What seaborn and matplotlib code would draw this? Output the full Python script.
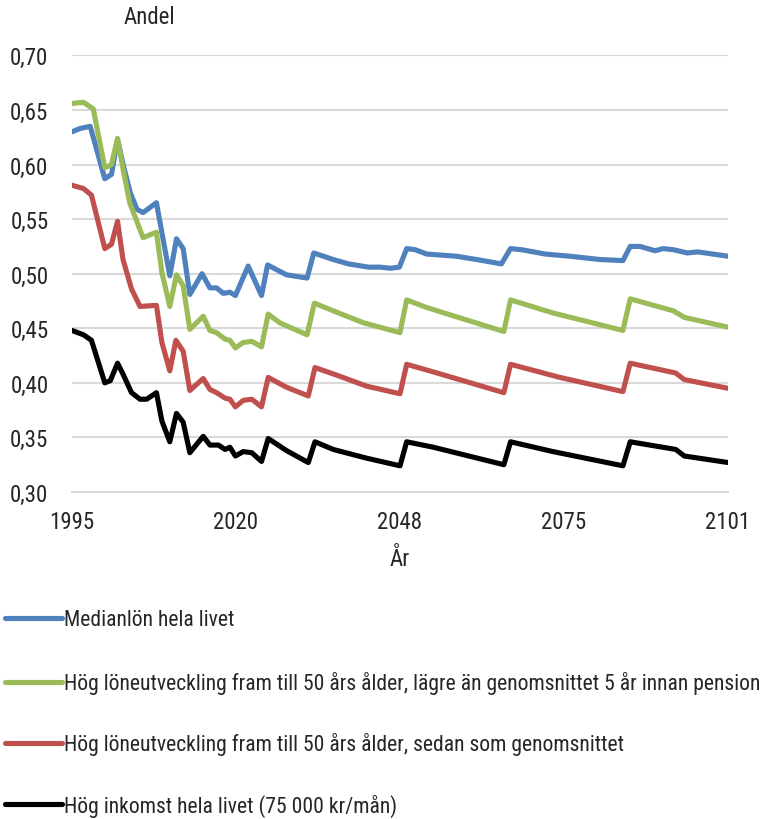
import numpy as np
import pandas as pd
import matplotlib
matplotlib.use("Agg")
import matplotlib.pyplot as plt
import seaborn as sns
from matplotlib.lines import Line2D
from matplotlib import font_manager as fm

# ---- data (x = category position on the year axis, 0 = 1995 ... 108 = 2101) ----
tick_pos = [0, 27, 54, 81, 108]
tick_labels = ["1995", "2020", "2048", "2075", "2101"]

labels = [
    "Medianlön hela livet",
    "Hög löneutveckling fram till 50 års ålder, lägre än genomsnittet 5 år innan pension",
    "Hög löneutveckling fram till 50 års ålder, sedan som genomsnittet",
    "Hög inkomst hela livet (75 000 kr/mån)",
]

blue_t = [0, 1.3, 3, 5.4, 6.5, 7.5, 8.5, 9.6, 10.7, 11.7, 13.9, 16.1, 17.2, 18.3, 19.4,
          21.4, 22.7, 23.8, 24.9, 26, 26.9, 29, 31.2, 32.2, 35.3, 38.7, 39.8, 41.4, 43,
          45.5, 48.8, 50.7, 52.4, 53.9, 55.1, 56.5, 58.4, 63.3, 66.6, 70.7, 72.2, 74,
          77.9, 82, 86.9, 90.7, 91.9, 93.5, 96, 97.3, 99, 101.3, 103, 108]
blue_v = [0.630, 0.633, 0.635, 0.587, 0.591, 0.623, 0.598, 0.574, 0.559, 0.556, 0.565,
          0.498, 0.532, 0.523, 0.481, 0.500, 0.487, 0.487, 0.482, 0.483, 0.480, 0.507,
          0.480, 0.508, 0.499, 0.496, 0.519, 0.516, 0.513, 0.509, 0.506, 0.506, 0.505,
          0.506, 0.523, 0.522, 0.518, 0.516, 0.513, 0.509, 0.523, 0.522, 0.518, 0.516,
          0.513, 0.512, 0.525, 0.525, 0.521, 0.523, 0.522, 0.519, 0.520, 0.516]

green_t = [0, 1.9, 3.5, 5.4, 6.5, 7.5, 8.4, 9.5, 11.7, 13.9, 14.8, 16.1, 17.2, 18.3, 19.4,
           21.6, 22.7, 23.8, 25.2, 26, 26.9, 28.2, 29.6, 31.2, 32.3, 34.2, 38.7, 39.9,
           43, 48, 54, 55.1, 58.4, 71.1, 72.2, 79.2, 90.7, 91.9, 99, 100.8, 108]
green_v = [0.656, 0.657, 0.651, 0.597, 0.600, 0.624, 0.596, 0.565, 0.533, 0.538, 0.501,
           0.470, 0.499, 0.489, 0.449, 0.461, 0.448, 0.446, 0.440, 0.439, 0.432, 0.437,
           0.438, 0.433, 0.463, 0.455, 0.444, 0.473, 0.466, 0.455, 0.446, 0.476, 0.469,
           0.447, 0.476, 0.464, 0.448, 0.477, 0.466, 0.460, 0.451]

red_t = [0, 1.9, 3.2, 5.4, 6.5, 7.5, 8.4, 9.8, 11.2, 13.9, 14.8, 16.1, 17.1, 18.3, 19.4,
         21.6, 22.7, 23.8, 25.2, 26, 26.9, 28.2, 29.6, 31.2, 32.3, 35.3, 38.9, 40,
         43.6, 48.5, 54, 55.1, 59.5, 71.1, 72.2, 80.3, 90.7, 91.9, 99.4, 100.8, 108]
red_v = [0.581, 0.578, 0.572, 0.523, 0.527, 0.548, 0.513, 0.486, 0.470, 0.471, 0.437,
         0.411, 0.439, 0.429, 0.393, 0.404, 0.394, 0.391, 0.386, 0.385, 0.378, 0.384,
         0.385, 0.378, 0.405, 0.396, 0.388, 0.414, 0.407, 0.397, 0.390, 0.417, 0.410,
         0.391, 0.417, 0.405, 0.392, 0.418, 0.409, 0.403, 0.395]

black_t = [0, 1.9, 3.2, 5.4, 6.3, 7.5, 8.4, 9.8, 11.2, 12.3, 13.9, 14.8, 16.1, 17.2, 18.3,
           19.4, 21.6, 22.7, 24.1, 25.2, 26, 26.9, 28.2, 29.6, 31.2, 32.3, 35.3, 38.9,
           40, 43, 48.5, 54, 55.1, 59.5, 71.1, 72.2, 79.2, 90.7, 91.9, 99.4, 100.8, 108]
black_v = [0.448, 0.444, 0.439, 0.400, 0.402, 0.418, 0.408, 0.391, 0.385, 0.385, 0.391,
           0.365, 0.346, 0.372, 0.364, 0.336, 0.351, 0.343, 0.343, 0.339, 0.341, 0.333,
           0.337, 0.336, 0.328, 0.349, 0.338, 0.327, 0.346, 0.339, 0.331, 0.324, 0.346,
           0.341, 0.325, 0.346, 0.337, 0.324, 0.346, 0.339, 0.333, 0.327]

colors = ["#4f81bd", "#9bbb59", "#c0504d", "#000000"]

frames = []
for lab, t, v in zip(labels, [blue_t, green_t, red_t, black_t],
                     [blue_v, green_v, red_v, black_v]):
    frames.append(pd.DataFrame({"t": t, "andel": v, "serie": lab}))
df = pd.concat(frames, ignore_index=True)

# ---- pick a narrow font if one is installed ----
sns.set_theme(style="white")
narrow_family, narrow_stretch = None, "normal"
pref = ["Liberation Sans Narrow", "Roboto Condensed", "Open Sans Condensed",
        "Noto Sans Condensed", "DejaVu Sans Condensed"]
names = {f.name for f in fm.fontManager.ttflist}
for p in pref:
    if p in names:
        narrow_family = p
        break
if narrow_family is None:
    for f in fm.fontManager.ttflist:
        if f.stretch in ("condensed", "semi-condensed", "extra-condensed") and f.weight in (400, "normal", "regular"):
            narrow_family, narrow_stretch = f.name, f.stretch
            break
if narrow_family is None:
    narrow_family = "Roboto" if "Roboto" in names else "DejaVu Sans"
plt.rcParams["font.family"] = [narrow_family, "DejaVu Sans"]
plt.rcParams["font.stretch"] = narrow_stretch
FS = 16.5

fig = plt.figure(figsize=(7.63, 8.20), dpi=100)
ax = fig.add_axes([72 / 763, 1 - 493 / 820, (728 - 72) / 763, (493 - 56.4) / 820])

sns.lineplot(data=df, x="t", y="andel", hue="serie", palette=colors,
             hue_order=labels, estimator=None, sort=False, linewidth=3.7,
             legend=False, ax=ax)
for ln in ax.get_lines():
    ln.set_solid_joinstyle("round")
    ln.set_solid_capstyle("round")

ax.set_xlim(0, 108)
ax.set_ylim(0.30, 0.70)
yt = np.arange(0.30, 0.7001, 0.05)
ax.set_yticks(yt)
ax.set_yticklabels([f"{y:.2f}".replace(".", ",") for y in yt], fontsize=FS)
ax.set_xticks(tick_pos)
ax.set_xticklabels(tick_labels, fontsize=FS)
ax.yaxis.grid(True, color="#d9d9d9", linewidth=1.5)
ax.set_axisbelow(True)
ax.tick_params(axis="y", length=0, pad=17)
ax.tick_params(axis="x", direction="in", length=6, width=1.5, color="#d9d9d9", pad=13)
for s in ["top", "right", "left"]:
    ax.spines[s].set_visible(False)
ax.spines["bottom"].set_color("#d9d9d9")
ax.spines["bottom"].set_linewidth(1.5)
ax.set_xlabel("")
ax.set_ylabel("")

fig.text(149 / 763, 1 - 18 / 820, "Andel", fontsize=FS, ha="center", va="center")
fig.text(400 / 763, 1 - 560 / 820, "År", fontsize=FS, ha="center", va="center")

# ---- legend: one row per series at the reference row heights ----
row_y = [621, 684, 745, 806]


def make_legends(fs):
    fs_px = fs * 100 / 72
    legs = []
    for c, lab, y in zip(colors, labels, row_y):
        h = Line2D([0], [0], color=c, linewidth=3.7, solid_capstyle="round")
        lg = fig.legend([h], [lab], loc="center left",
                        bbox_to_anchor=(5 / 763, 1 - y / 820),
                        frameon=False, fontsize=fs, handlelength=57 / fs_px,
                        handletextpad=2 / fs_px, borderpad=0, borderaxespad=0)
        legs.append(lg)
    return legs


lfs = FS
legs = make_legends(lfs)
fig.canvas.draw()
renderer = fig.canvas.get_renderer()
right = max(t.get_window_extent(renderer).x1 for lg in legs for t in lg.get_texts())
if right > 760:
    for lg in legs:
        lg.remove()
    lfs = FS * (760 - 64) / (right - 64)
    legs = make_legends(lfs)

fig.savefig("out.png", dpi=100)
